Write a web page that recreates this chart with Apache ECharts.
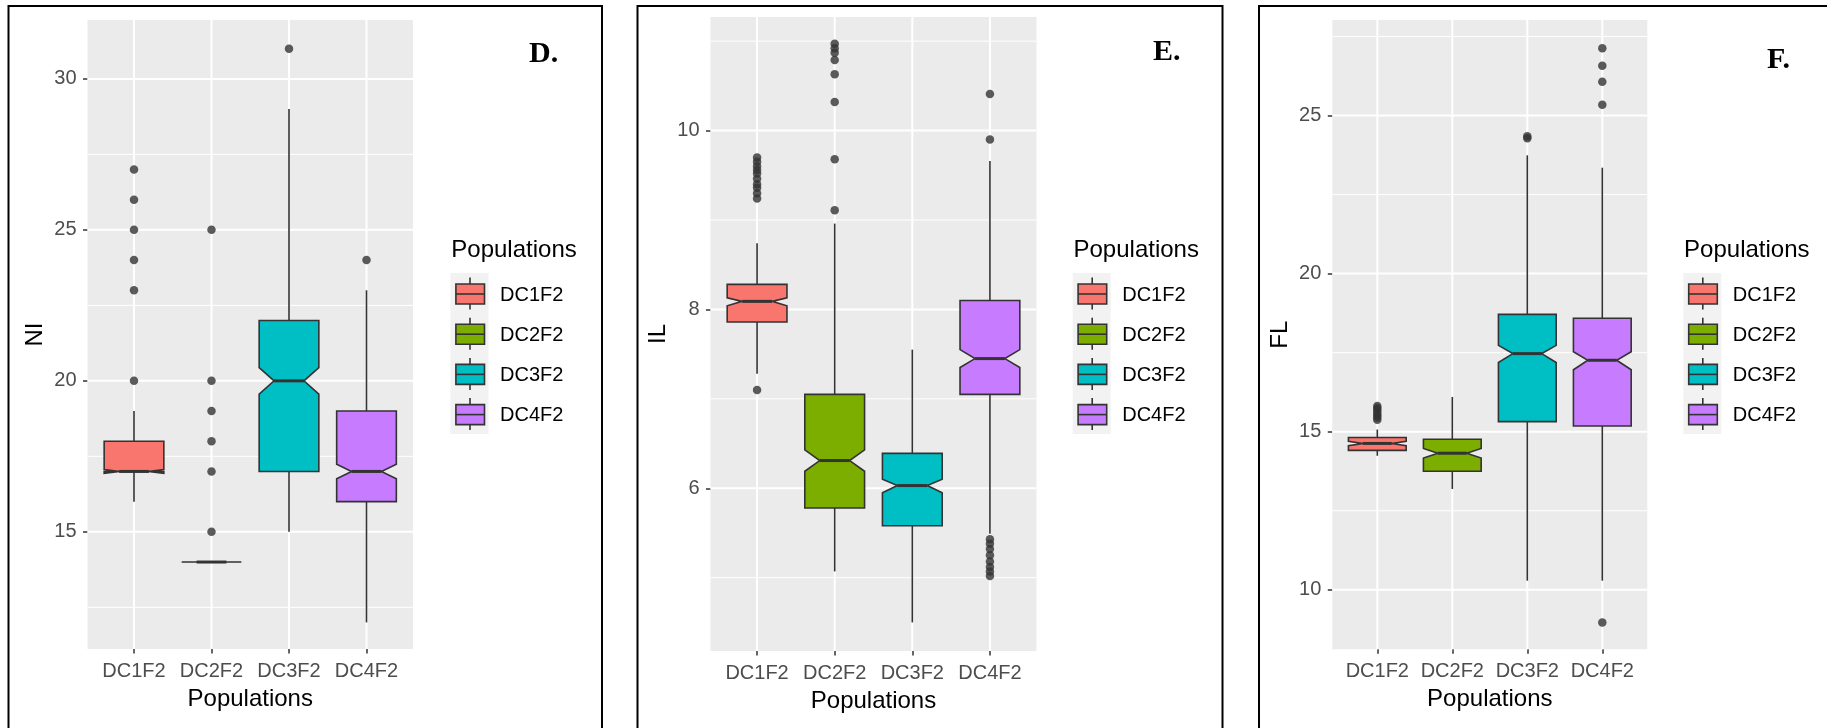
<!DOCTYPE html>
<html>
<head>
<meta charset="utf-8">
<script src="https://cdn.jsdelivr.net/npm/echarts@6/dist/echarts.min.js"></script>
<style>
  html, body { margin: 0; padding: 0; background: #ffffff; }
  #chart { width: 1827px; height: 728px; }
</style>
</head>
<body>
<div id="chart"></div>
<script>
// Populations on the x axis of every panel
const categories = ['DC1F2', 'DC2F2', 'DC3F2', 'DC4F2'];
const palette = ['#F8766D', '#7CAE00', '#00BFC4', '#C77CFF'];

// Panel D: NI
const niLowWhisker  = [16, 14, 15, 12];
const niQ1          = [17, 14, 17, 16];
const niMedian      = [17, 14, 20, 17];
const niQ3          = [18, 14, 22, 19];
const niHighWhisker = [19, 14, 29, 23];
const niNotchLow    = [16.94, 14, 19.56, 16.76];
const niNotchHigh   = [17.06, 14, 20.44, 17.24];
const niOutliers    = [[20, 23, 24, 25, 26, 27], [15, 17, 18, 19, 20, 25], [31], [24]];
const niTicks       = [15, 20, 25, 30];
const niMinorTicks  = [12.5, 17.5, 22.5, 27.5];

// Panel E: IL
const ilLowWhisker  = [7.28, 5.07, 4.50, 5.49];
const ilQ1          = [7.86, 5.78, 5.58, 7.05];
const ilMedian      = [8.09, 6.31, 6.03, 7.45];
const ilQ3          = [8.28, 7.05, 6.39, 8.10];
const ilHighWhisker = [8.74, 8.96, 7.55, 9.66];
const ilNotchLow    = [8.04, 6.19, 5.95, 7.35];
const ilNotchHigh   = [8.13, 6.43, 6.10, 7.55];
const ilOutliers    = [
  [7.10, 9.24, 9.30, 9.36, 9.40, 9.46, 9.52, 9.56, 9.60, 9.65, 9.70],
  [9.11, 9.68, 10.32, 10.63, 10.79, 10.87, 10.92, 10.97],
  [],
  [5.02, 5.07, 5.12, 5.18, 5.25, 5.32, 5.38, 5.43, 9.90, 10.41]
];
const ilTicks       = [6, 8, 10];
const ilMinorTicks  = [5, 7, 9, 11];

// Panel F: FL
const flLowWhisker  = [14.24, 13.19, 10.29, 10.29];
const flQ1          = [14.41, 13.75, 15.32, 15.18];
const flMedian      = [14.63, 14.32, 17.47, 17.26];
const flQ3          = [14.82, 14.76, 18.71, 18.59];
const flHighWhisker = [15.07, 16.10, 23.74, 23.35];
const flNotchLow    = [14.56, 14.17, 17.19, 16.96];
const flNotchHigh   = [14.70, 14.47, 17.73, 17.53];
const flOutliers    = [
  [15.38, 15.45, 15.52, 15.60, 15.68, 15.75, 15.81],
  [],
  [24.28, 24.34],
  [8.97, 25.34, 26.07, 26.57, 27.13]
];
const flTicks       = [10, 15, 20, 25];
const flMinorTicks  = [12.5, 17.5, 22.5, 27.5];

const FONT = '"Liberation Sans", Arial, sans-serif';
const BOX_WIDTH = 0.77;

const panels = [
  { tag: 'D.', yName: 'NI', yMin: 11.12, yMax: 31.95,
    low: niLowWhisker, q1: niQ1, med: niMedian, q3: niQ3, high: niHighWhisker,
    nlo: niNotchLow, nhi: niNotchHigh, out: niOutliers, ticks: niTicks, minor: niMinorTicks,
    grid: { left: 87.5, top: 20, width: 325.5, height: 629 },
    frame: { x: 8.5, w: 593.5 }, tagPos: [529, 54], legendX: 450.5 },
  { tag: 'E.', yName: 'IL', yMin: 4.18, yMax: 11.27,
    low: ilLowWhisker, q1: ilQ1, med: ilMedian, q3: ilQ3, high: ilHighWhisker,
    nlo: ilNotchLow, nhi: ilNotchHigh, out: ilOutliers, ticks: ilTicks, minor: ilMinorTicks,
    grid: { left: 710.5, top: 17, width: 326, height: 634 },
    frame: { x: 637.5, w: 585 }, tagPos: [1153, 52], legendX: 1072.7 },
  { tag: 'F.', yName: 'FL', yMin: 8.12, yMax: 28.02,
    low: flLowWhisker, q1: flQ1, med: flMedian, q3: flQ3, high: flHighWhisker,
    nlo: flNotchLow, nhi: flNotchHigh, out: flOutliers, ticks: flTicks, minor: flMinorTicks,
    grid: { left: 1332.3, top: 20, width: 315, height: 629.3 },
    frame: { x: 1259, w: 700 }, tagPos: [1767, 60], legendX: 1683.3 }
];

// white panel grid lines (major / minor horizontal, major vertical at categories)
function renderGridLine(params, api) {
  const cs = params.coordSys;
  const orient = api.value(0), v = api.value(1), major = api.value(2);
  const w = major ? 2 : 1;
  if (orient === 0) {
    const y = api.coord([1, v])[1];
    return { type: 'line', shape: { x1: cs.x, y1: y, x2: cs.x + cs.width, y2: y },
      style: { stroke: '#ffffff', lineWidth: w } };
  }
  const x = api.coord([v, 0])[0];
  return { type: 'line', shape: { x1: x, y1: cs.y, x2: x, y2: cs.y + cs.height },
    style: { stroke: '#ffffff', lineWidth: w } };
}

// notched box with whiskers
function renderBox(params, api) {
  const x = api.value(0);
  const lo = api.value(1), q1 = api.value(2), nlo = api.value(3), med = api.value(4);
  const nhi = api.value(5), q3 = api.value(6), hi = api.value(7);
  const hw = BOX_WIDTH / 2;
  const P = (a, b) => api.coord([a, b]);
  const pts = [P(x - hw, q3), P(x + hw, q3), P(x + hw, nhi), P(x + hw / 2, med), P(x + hw, nlo),
    P(x + hw, q1), P(x - hw, q1), P(x - hw, nlo), P(x - hw / 2, med), P(x - hw, nhi)];
  const cx = P(x, med)[0];
  const stroke = '#333333';
  const m1 = P(x - hw / 2, med), m2 = P(x + hw / 2, med);
  return {
    type: 'group',
    children: [
      { type: 'line', shape: { x1: cx, y1: P(x, q3)[1], x2: cx, y2: P(x, hi)[1] },
        style: { stroke: stroke, lineWidth: 1.6 } },
      { type: 'line', shape: { x1: cx, y1: P(x, q1)[1], x2: cx, y2: P(x, lo)[1] },
        style: { stroke: stroke, lineWidth: 1.6 } },
      { type: 'polygon', shape: { points: pts },
        style: { fill: palette[params.dataIndex], stroke: stroke, lineWidth: 1.6, lineJoin: 'miter' } },
      { type: 'line', shape: { x1: m1[0], y1: m1[1], x2: m2[0], y2: m2[1] },
        style: { stroke: stroke, lineWidth: 3 } }
    ]
  };
}

const grids = [], xAxes = [], yAxes = [], series = [], graphics = [];

panels.forEach((p, i) => {
  grids.push({ left: p.grid.left, top: p.grid.top, width: p.grid.width, height: p.grid.height,
    show: true, backgroundColor: '#EBEBEB', borderWidth: 0, containLabel: false });

  xAxes.push({
    type: 'value', gridIndex: i, min: 0.4, max: 4.6,
    axisLine: { show: false }, splitLine: { show: false },
    axisTick: { show: true, customValues: [1, 2, 3, 4], length: 4.5, lineStyle: { color: '#333333', width: 1.5 } },
    axisLabel: { customValues: [1, 2, 3, 4], formatter: v => categories[Math.round(v) - 1],
      color: '#4D4D4D', fontSize: 20, fontFamily: FONT, margin: 12 },
    name: 'Populations', nameLocation: 'middle', nameGap: 38,
    nameTextStyle: { fontSize: 24, color: '#000000', fontFamily: FONT }
  });

  yAxes.push({
    type: 'value', gridIndex: i, min: p.yMin, max: p.yMax,
    axisLine: { show: false }, splitLine: { show: false },
    axisTick: { show: true, customValues: p.ticks, length: 4.5, lineStyle: { color: '#333333', width: 1.5 } },
    axisLabel: { customValues: p.ticks, formatter: v => String(v),
      color: '#4D4D4D', fontSize: 20, fontFamily: FONT, margin: 11 },
    name: p.yName, nameLocation: 'middle', nameGap: 40, nameRotate: 90,
    nameTextStyle: { fontSize: 24, color: '#000000', fontFamily: FONT }
  });

  const gridData = [];
  p.ticks.forEach(v => gridData.push([0, v, 1]));
  p.minor.forEach(v => gridData.push([0, v, 0]));
  categories.forEach((c, k) => gridData.push([1, k + 1, 1]));
  series.push({ type: 'custom', xAxisIndex: i, yAxisIndex: i, silent: true, z: 1,
    renderItem: renderGridLine, data: gridData, animation: false });

  const boxData = categories.map((c, k) =>
    [k + 1, p.low[k], p.q1[k], p.nlo[k], p.med[k], p.nhi[k], p.q3[k], p.high[k]]);
  series.push({ type: 'custom', name: p.yName, xAxisIndex: i, yAxisIndex: i, silent: true, z: 3,
    renderItem: renderBox, data: boxData, animation: false });

  const outData = [];
  p.out.forEach((list, k) => list.forEach(v => outData.push([k + 1, v])));
  series.push({ type: 'scatter', xAxisIndex: i, yAxisIndex: i, silent: true, z: 4,
    symbol: 'circle', symbolSize: 8.5, itemStyle: { color: '#333333' },
    data: outData, animation: false });

  // panel frame
  graphics.push({ type: 'rect', shape: { x: p.frame.x, y: 6, width: p.frame.w, height: 800 },
    style: { fill: 'none', stroke: '#000000', lineWidth: 2 }, silent: true });
  // panel tag
  graphics.push({ type: 'text', x: p.tagPos[0], y: p.tagPos[1], silent: true,
    style: { text: p.tag, font: 'bold 30px "Liberation Serif", "Times New Roman", serif',
      fill: '#000000', align: 'left', verticalAlign: 'middle' } });

  // legend
  const L = p.legendX;
  graphics.push({ type: 'text', x: L + 0.8, y: 250, silent: true,
    style: { text: 'Populations', font: '24px ' + FONT, fill: '#000000', align: 'left', verticalAlign: 'middle' } });
  graphics.push({ type: 'rect', shape: { x: L, y: 273, width: 38, height: 161 },
    style: { fill: '#F2F2F2' }, silent: true });
  categories.forEach((c, k) => {
    const cy = 294 + 40.2 * k;
    graphics.push({ type: 'line', shape: { x1: L + 19.5, y1: cy - 16.5, x2: L + 19.5, y2: cy + 15.5 },
      style: { stroke: '#333333', lineWidth: 1.6 }, silent: true });
    graphics.push({ type: 'rect', shape: { x: L + 5.4, y: cy - 10, width: 28.6, height: 20 },
      style: { fill: palette[k], stroke: '#333333', lineWidth: 1.6 }, silent: true });
    graphics.push({ type: 'line', shape: { x1: L + 5.4, y1: cy, x2: L + 34, y2: cy },
      style: { stroke: '#333333', lineWidth: 1.6 }, silent: true });
    graphics.push({ type: 'text', x: L + 49.5, y: cy + 1, silent: true,
      style: { text: c, font: '20px ' + FONT, fill: '#000000', align: 'left', verticalAlign: 'middle' } });
  });
});

const chart = echarts.init(document.getElementById('chart'), null, { renderer: 'canvas' });
chart.setOption({
  backgroundColor: '#ffffff',
  animation: false,
  grid: grids,
  xAxis: xAxes,
  yAxis: yAxes,
  series: series,
  graphic: { elements: graphics }
});
</script>
</body>
</html>
